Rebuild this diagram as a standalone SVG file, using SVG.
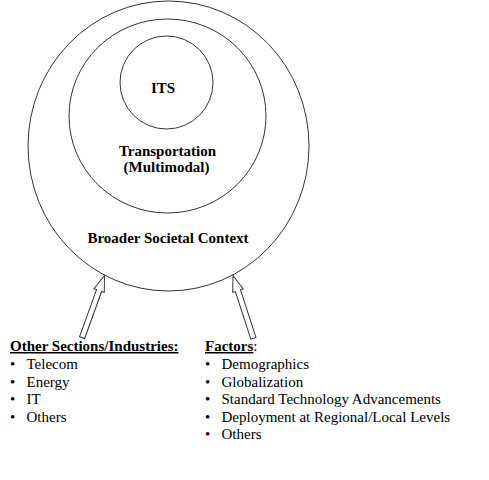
<svg xmlns="http://www.w3.org/2000/svg" width="489" height="480" viewBox="0 0 489 480">
<style>
.c{fill:none;stroke:#333;stroke-width:1}
.t{font-family:"Liberation Serif","Times New Roman",serif;font-size:15px;fill:#000}
.b{font-weight:bold}
.m{text-anchor:middle}
.u{text-decoration:underline}
.a{fill:#fff;stroke:#333;stroke-width:1}
</style>
<defs>
<polygon id="arr" points="0,0 5.5,16 2.7,16 2.7,66 -2.7,66 -2.7,16 -5.5,16"/>
</defs>
<rect width="489" height="480" fill="#fff"/>
<g id="outer">
<ellipse class="c" cx="168.5" cy="146" rx="140.5" ry="145"/>
<text class="t b m" x="168" y="243">Broader Societal Context</text>
</g>
<g id="middle">
<ellipse class="c" cx="167.5" cy="116" rx="98.5" ry="97"/>
<text class="t b m" x="167.5" y="156">Transportation</text>
<text class="t b m" x="166.5" y="172">(Multimodal)</text>
</g>
<g id="inner">
<circle class="c" cx="166.5" cy="82.5" r="46.5"/>
<text class="t b m" x="163" y="93">ITS</text>
</g>
<g id="connectors">
<use href="#arr" class="a" transform="translate(104.5,275.5) rotate(19.8)"/>
<use href="#arr" class="a" transform="translate(233,275.5) rotate(-18)"/>
</g>
<g id="industries">
<text class="t b u" x="10" y="351">Other Sections/Industries:</text>
<text class="t" x="10" y="369">•</text><text class="t" x="26.5" y="369">Telecom</text>
<text class="t" x="10" y="386.5">•</text><text class="t" x="26.5" y="386.5">Energy</text>
<text class="t" x="10" y="404">•</text><text class="t" x="26.5" y="404">IT</text>
<text class="t" x="10" y="421.5">•</text><text class="t" x="26.5" y="421.5">Others</text>
</g>
<g id="factors">
<text class="t" x="205" y="351"><tspan class="b u">Factors</tspan>:</text>
<text class="t" x="205" y="369">•</text><text class="t" x="221.5" y="369">Demographics</text>
<text class="t" x="205" y="386.5">•</text><text class="t" x="221.5" y="386.5">Globalization</text>
<text class="t" x="205" y="404">•</text><text class="t" x="221.5" y="404">Standard Technology Advancements</text>
<text class="t" x="205" y="421.5">•</text><text class="t" x="221.5" y="421.5">Deployment at Regional/Local Levels</text>
<text class="t" x="205" y="439">•</text><text class="t" x="221.5" y="439">Others</text>
</g>
</svg>
